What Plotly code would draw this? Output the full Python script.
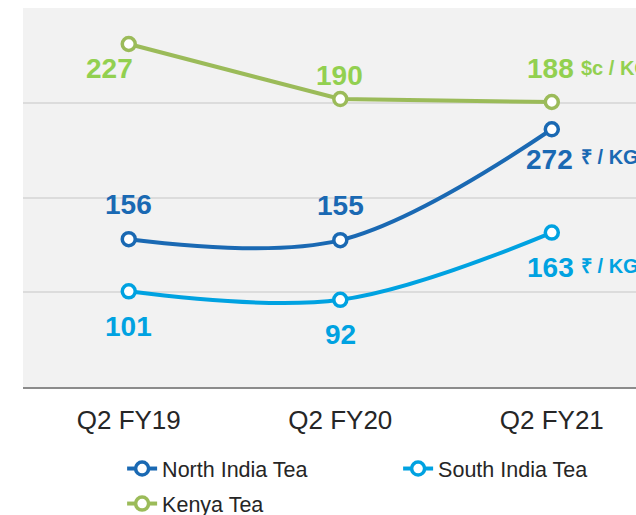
import plotly.graph_objects as go

categories = ["Q2 FY19", "Q2 FY20", "Q2 FY21"]
north_india = [156, 155, 272]
south_india = [101, 92, 163]
kenya = [227, 190, 188]

NORTH_C = "#1a69b3"
SOUTH_C = "#00a2e1"
KENYA_C = "#9bbb59"
KENYA_TXT = "#92d050"

fig = go.Figure()

def add_series(name, vals, color, yaxis, shape, legend):
    fig.add_trace(go.Scatter(
        x=categories, y=vals, name=name, yaxis=yaxis, legend=legend,
        mode="lines+markers",
        line=dict(color=color, width=4, shape=shape, smoothing=1),
        marker=dict(symbol="circle", size=13, color="white",
                    line=dict(color=color, width=3.5)),
        hoverinfo="skip",
    ))

add_series("North India Tea", north_india, NORTH_C, "y", "spline", "legend")
add_series("South India Tea", south_india, SOUTH_C, "y", "spline", "legend")
add_series("Kenya Tea", kenya, KENYA_C, "y2", "linear", "legend2")

label_font = dict(family="Liberation Sans, Arial", size=28)
unit_font = dict(family="Liberation Sans, Arial", size=20)

label_specs = [
    (north_india, "y", NORTH_C, [(0, 35), (0, 35), (-2, -30)]),
    (south_india, "y", SOUTH_C, [(0, -35), (0, -35), (-1, -35)]),
    (kenya, "y2", KENYA_TXT, [(-19, -24), (-1, 24), (-1, 34)]),
]
for vals, yref, color, shifts in label_specs:
    for cat, v, (dx, dy) in zip(categories, vals, shifts):
        fig.add_annotation(
            x=cat, y=v, xref="x", yref=yref, text=f"<b>{v}</b>",
            showarrow=False, xanchor="center", yanchor="middle",
            xshift=dx, yshift=dy, font=dict(color=color, **label_font),
        )

units = [
    (kenya[-1], "y2", KENYA_TXT, "$c / KG", 34),
    (north_india[-1], "y", NORTH_C, "₹ / KG", -28),
    (south_india[-1], "y", SOUTH_C, "₹ / KG", -33),
]
for v, yref, color, txt, dy in units:
    fig.add_annotation(
        x=categories[-1], y=v, xref="x", yref=yref, text=f"<b>{txt}</b>",
        showarrow=False, xanchor="left", yanchor="middle",
        xshift=27, yshift=dy, font=dict(color=color, **unit_font),
    )

legend_font = dict(family="Liberation Sans, Arial", size=21.5, color="#262626")

fig.update_layout(
    width=636, height=515,
    margin=dict(l=23, r=0, t=8, b=128, autoexpand=False),
    paper_bgcolor="white",
    plot_bgcolor="#f2f2f2",
    showlegend=True,
    legend=dict(
        orientation="h", xref="container", yref="container",
        x=0.192, y=0.130, xanchor="left", yanchor="top",
        font=legend_font, entrywidth=231, itemwidth=30,
        bgcolor="rgba(0,0,0,0)",
    ),
    legend2=dict(
        orientation="h", xref="container", yref="container",
        x=0.192, y=0.062, xanchor="left", yanchor="top",
        font=legend_font, itemwidth=30,
        bgcolor="rgba(0,0,0,0)",
    ),
    xaxis=dict(
        type="category", range=[-0.5, 2.398],
        showgrid=False, zeroline=False,
        showline=True, linecolor="#8c8c8c", linewidth=1.5,
        ticks="", ticklabelstandoff=9,
        tickfont=dict(family="Liberation Sans, Arial", size=26, color="#262626"),
    ),
    yaxis=dict(
        range=[0, 400], dtick=100, showgrid=True, gridcolor="#dcdcdc",
        gridwidth=1.5, zeroline=False, showticklabels=False, showline=False,
    ),
    yaxis2=dict(
        range=[-3.6, 251.2], overlaying="y", side="right",
        showgrid=False, zeroline=False, showticklabels=False, showline=False,
    ),
)

fig.write_html(
    "out.html",
    config={"displayModeBar": False},
    post_script="document.body.style.margin='0';document.body.style.overflow='hidden';",
)
